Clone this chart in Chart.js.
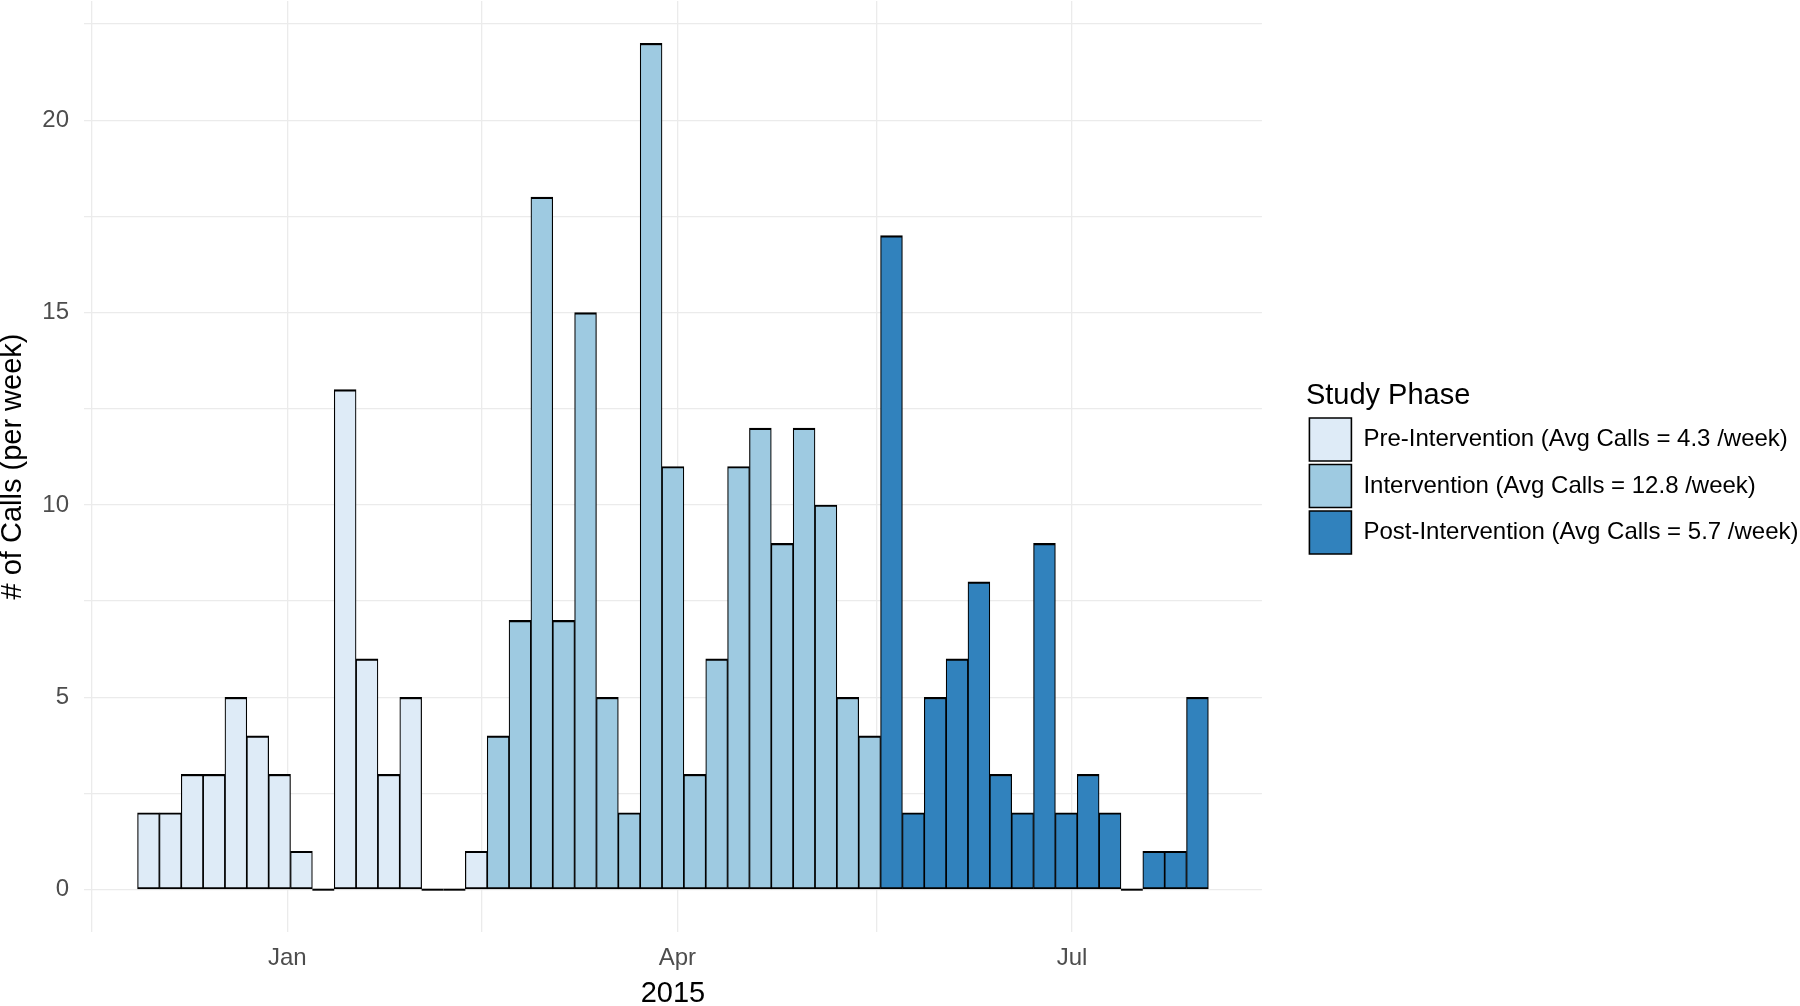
<!DOCTYPE html>
<html>
<head>
<meta charset="utf-8">
<script src="https://cdn.jsdelivr.net/npm/chart.js@4.4.1/dist/chart.umd.min.js"></script>
<style>
  html, body { margin: 0; padding: 0; background: #ffffff; }
  #wrap { width: 1800px; height: 1006px; }
</style>
</head>
<body>
<div id="wrap"><canvas id="c" width="1800" height="1006"></canvas></div>
<script>
// ---- Data (weekly call counts) ----
const phaseNames = [
  'Pre-Intervention (Avg Calls = 4.3 /week)',
  'Intervention (Avg Calls = 12.8 /week)',
  'Post-Intervention (Avg Calls = 5.7 /week)'
];
const preCalls  = [2, 2, 3, 3, 5, 4, 3, 1, 0, 13, 6, 3, 5, 0, 0, 1];
const intCalls  = [4, 7, 18, 7, 15, 5, 2, 22, 11, 3, 6, 11, 12, 9, 12, 10, 5, 4];
const postCalls = [17, 2, 5, 6, 8, 3, 2, 9, 2, 3, 2, 0, 1, 1, 5];
const phaseColors = ['#DEEBF7', '#9ECAE1', '#3182BD'];

// y axis ticks (major every 5, minor grid at 2.5)
const yTicks = [0, 2.5, 5, 7.5, 10, 12.5, 15, 17.5, 20, 22.5];
// x axis: positions in bin units (bin i centred at i), month breaks + minor breaks
const xTickPos    = [-2.6, 6.35, 15.25, 24.2, 33.3, 42.26];
const xTickLabels = ['', 'Jan', '', 'Apr', '', 'Jul'];
const xTitle = '2015';
const yTitle = '# of Calls (per week)';
const legendTitle = 'Study Phase';

// ---- Build datasets ----
let binIndex = 0;
const datasets = [preCalls, intCalls, postCalls].map((arr, k) => {
  const data = arr.map(v => ({ x: binIndex++, y: v }));
  return {
    label: phaseNames[k],
    data: data,
    backgroundColor: phaseColors[k],
    borderColor: '#000000',
    borderWidth: { top: 2.2, bottom: 2, left: 1.2, right: 1.2 },
    borderSkipped: false,
    grouped: false,
    categoryPercentage: 1.0,
    barPercentage: 1.0
  };
});

// draw zero-count bins as a flat outline (as the reference does)
const zeroBars = {
  id: 'zeroBars',
  afterDatasetsDraw(chart) {
    const ctx = chart.ctx;
    ctx.save();
    ctx.strokeStyle = '#000000';
    ctx.lineWidth = 2;
    chart.data.datasets.forEach((ds, di) => {
      const meta = chart.getDatasetMeta(di);
      meta.data.forEach((el, i) => {
        if (ds.data[i].y === 0) {
          ctx.beginPath();
          ctx.moveTo(el.x - el.width / 2, el.base);
          ctx.lineTo(el.x + el.width / 2, el.base);
          ctx.stroke();
        }
      });
    });
    ctx.restore();
  }
};

Chart.defaults.font.family = '"Liberation Sans", Arial, Helvetica, sans-serif';

new Chart(document.getElementById('c'), {
  type: 'bar',
  data: { datasets: datasets },
  plugins: [zeroBars],
  options: {
    responsive: false,
    devicePixelRatio: 1,
    animation: false,
    layout: { padding: { top: 1, left: 0, bottom: 0, right: -8.5 } },
    plugins: {
      tooltip: { enabled: false },
      legend: {
        display: true,
        position: 'right',
        align: 'start',
        maxWidth: 700,
        title: {
          display: true,
          text: legendTitle,
          position: 'start',
          color: '#000000',
          font: { size: 29, lineHeight: 1 },
          padding: { top: 380, bottom: 4.5 }
        },
        labels: {
          boxWidth: 42,
          boxHeight: 43,
          padding: 3.5,
          color: '#000000',
          font: { size: 24 },
          generateLabels(chart) {
            return chart.data.datasets.map((ds, i) => ({
              text: ds.label,
              fillStyle: ds.backgroundColor,
              strokeStyle: '#000000',
              lineWidth: 1.6,
              fontColor: '#000000',
              hidden: false,
              datasetIndex: i
            }));
          }
        }
      }
    },
    scales: {
      x: {
        type: 'linear',
        position: 'bottom',
        offset: false,
        min: -2.95,
        max: 50.95,
        afterBuildTicks(s) { s.ticks = xTickPos.map(v => ({ value: v })); },
        afterFit(s) { s.height = 74; s.paddingLeft = 0; s.paddingRight = 0; },
        ticks: {
          color: '#4D4D4D',
          font: { size: 24 },
          padding: 11.6,
          maxRotation: 0,
          autoSkip: false,
          callback(value, index) { return xTickLabels[index]; }
        },
        grid: { color: '#EBEBEB', lineWidth: 1.3, drawTicks: false, offset: false },
        border: { display: false },
        title: {
          display: true,
          text: xTitle,
          color: '#000000',
          font: { size: 29, lineHeight: 0.9 },
          padding: { top: 0, bottom: -1 }
        }
      },
      y: {
        type: 'linear',
        position: 'left',
        min: -1.1,
        max: 23.1,
        afterBuildTicks(s) { s.ticks = yTicks.map(v => ({ value: v })); },
        afterFit(s) { s.width = 84; s.paddingTop = 0; s.paddingBottom = 0; },
        ticks: {
          color: '#4D4D4D',
          font: { size: 24 },
          padding: 15,
          callback(value) { return value % 5 === 0 ? String(value) : ''; }
        },
        grid: { color: '#EBEBEB', lineWidth: 1.3, drawTicks: false },
        border: { display: false },
        title: {
          display: true,
          text: yTitle,
          color: '#000000',
          font: { size: 29, lineHeight: 0.9 },
          padding: { top: 0, bottom: 0 }
        }
      },
      ySpacer: {
        type: 'linear',
        position: 'right',
        display: true,
        afterFit(s) { s.width = 44; s.paddingTop = 0; s.paddingBottom = 0; },
        ticks: { display: false },
        grid: { display: false, drawTicks: false },
        border: { display: false }
      }
    }
  }
});
</script>
</body>
</html>
